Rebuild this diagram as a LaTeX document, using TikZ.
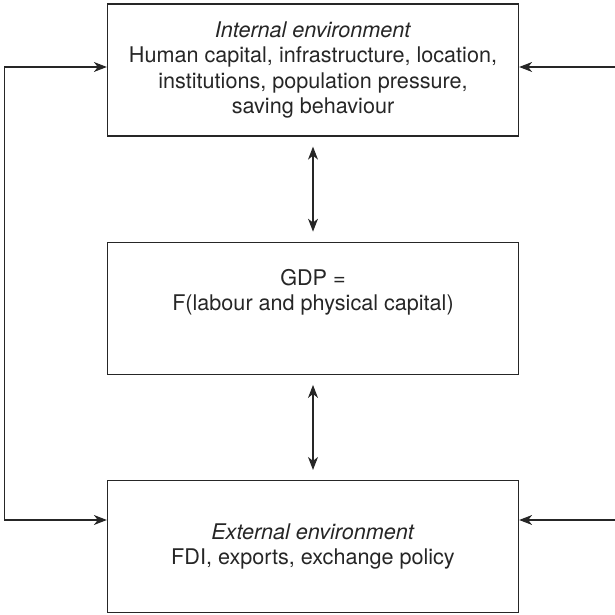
\documentclass[tikz,border=0pt]{standalone}
\usepackage{fontspec}
\setmainfont{TeX Gyre Heros}
\usetikzlibrary{arrows.meta,positioning}

\begin{document}
\begin{tikzpicture}[
    x=0.5pt, y=0.5pt,
    node distance=52.5pt,
    box/.style={rectangle, draw=black!85, line width=0.65pt, minimum width=205.5pt,
      minimum height=66pt, inner sep=0pt, align=center,
      font=\fontsize{10.8}{12.6}\selectfont, text=black!85},
    link/.style={draw=black!85, line width=0.6pt,
      >={Stealth[length=6.5pt, width=5pt, inset=2pt]}}
  ]
  \useasboundingbox (0,0) rectangle (615,615);

  % Nodes
  \node[box] (int) at (313,545) {\textit{Internal environment}\\
    Human capital, infrastructure, location,\\
    institutions, population pressure,\\
    saving behaviour};
  \node[box, below=of int] (gdp) {GDP =\\F(labour and physical capital)\\[6pt]};
  \node[box, below=of gdp] (ext) {\textit{External environment}\\FDI, exports, exchange policy};

  % Loose ends
  \coordinate (lt) at (4.5,548);
  \coordinate (lb) at (4.5,95);
  \coordinate (rt) at (615,548);
  \coordinate (rb) at (615,95);

  % Edges between boxes
  \draw[link, <->, shorten <=5pt, shorten >=5pt] (int) -- (gdp);
  \draw[link, <->, shorten <=5pt, shorten >=5pt] (gdp) -- (ext);

  % Edges from outside
  \draw[link, <->] (int.west |- lt) -- (lt) -- (lb) -- (ext.west |- lb);
  \draw[link, ->] (rt) -- (int.east |- rt);
  \draw[link, ->] (rb) -- (ext.east |- rb);

\end{tikzpicture}
\end{document}
